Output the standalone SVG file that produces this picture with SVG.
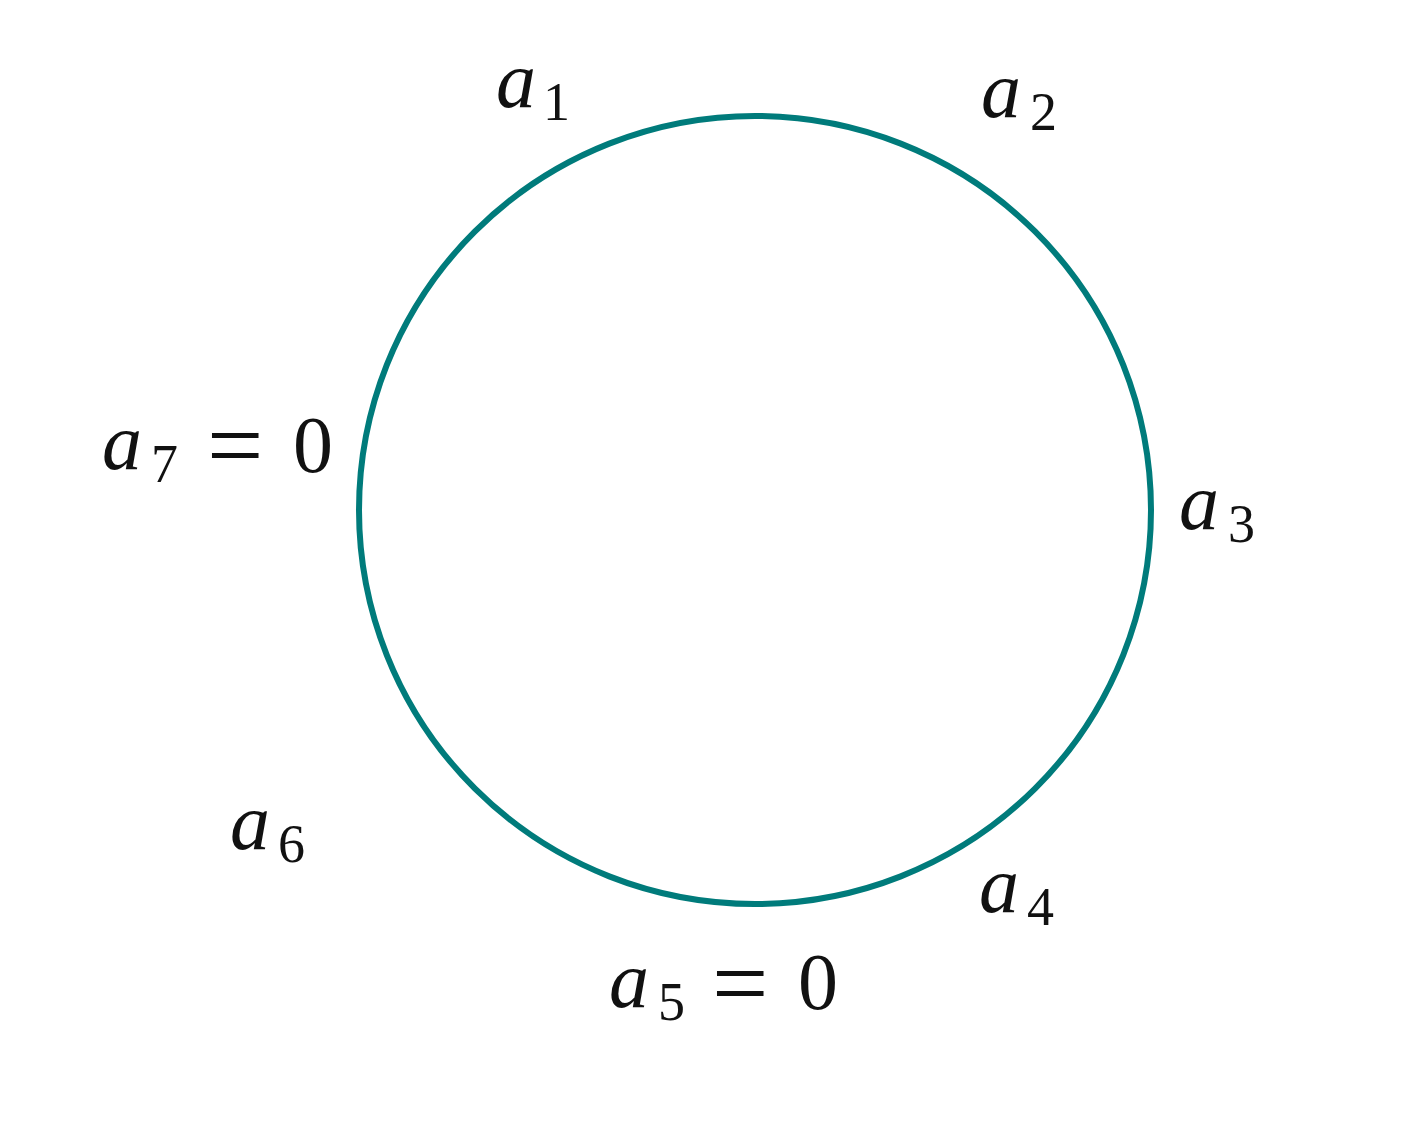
<svg xmlns="http://www.w3.org/2000/svg" width="1403" height="1121" viewBox="0 0 1403 1121">
<style>
.lbl{font-family:"Liberation Serif","DejaVu Serif",serif;font-size:80px;fill:#111}
.v{font-style:italic}
.s{font-size:54px}
.eq{font-size:100px}
</style>
<rect width="1403" height="1121" fill="#fff"/>
<g id="ring"><ellipse cx="755" cy="510" rx="396" ry="394" fill="none" stroke="#007b7b" stroke-width="6"/></g>
<g id="connectors"/>
<g id="a1"><text class="lbl" x="496" y="107"><tspan class="v">a</tspan><tspan class="s" x="543" y="120">1</tspan></text></g>
<g id="a2"><text class="lbl" x="981" y="117"><tspan class="v">a</tspan><tspan class="s" x="1030" y="130">2</tspan></text></g>
<g id="a3"><text class="lbl" x="1179" y="529"><tspan class="v">a</tspan><tspan class="s" x="1228" y="542">3</tspan></text></g>
<g id="a4"><text class="lbl" x="979" y="912"><tspan class="v">a</tspan><tspan class="s" x="1027" y="925">4</tspan></text></g>
<g id="a5"><text class="lbl" x="609" y="1007"><tspan class="v">a</tspan><tspan class="s" x="658" y="1020">5</tspan><tspan class="eq" x="712" y="1017">=</tspan><tspan x="798" y="1009">0</tspan></text></g>
<g id="a6"><text class="lbl" x="230" y="849"><tspan class="v">a</tspan><tspan class="s" x="278" y="862">6</tspan></text></g>
<g id="a7"><text class="lbl" x="102" y="469"><tspan class="v">a</tspan><tspan class="s" x="151" y="482">7</tspan><tspan class="eq" x="207" y="479">=</tspan><tspan x="293" y="472">0</tspan></text></g>
</svg>
